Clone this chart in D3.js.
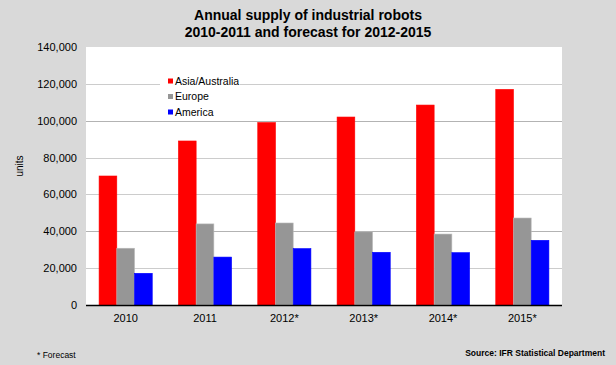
<!DOCTYPE html>
<html><head><meta charset="utf-8">
<script src="https://cdn.jsdelivr.net/npm/d3@7"></script>
<style>body{margin:0;background:#d9d9d9;}svg{display:block;font-family:"Liberation Sans",Arial,sans-serif;}</style>
</head><body>
<svg id="c" width="616" height="365"></svg>
<script>
const categories = ["2010","2011","2012*","2013*","2014*","2015*"];
const seriesNames = ["Asia/Australia","Europe","America"];
const asia = [70000, 89000, 99000, 102000, 108500, 117000];
const europe = [30800, 44000, 44500, 39700, 38500, 47200];
const america = [17200, 26000, 30600, 28600, 28400, 35100];
const colors = ["#ff0000","#969696","#0000ff"];
const yTicks = [0,20000,40000,60000,80000,100000,120000,140000];

(function(){
const svg = d3.select("#c");
svg.append("rect").attr("width",616).attr("height",365).attr("fill","#d9d9d9");
const pL=86, pR=562, pT=47, pB=305;
svg.append("rect").attr("x",pL).attr("y",pT).attr("width",pR-pL).attr("height",pB-pT).attr("fill","#fff");

const x = d3.scaleBand().domain(categories).range([pL,pR]).paddingInner(0.33).paddingOuter(0.165);
const y = d3.scaleLinear().domain([0,140000]).range([pB,pT]);
const xs = d3.scaleBand().domain(seriesNames).range([0,x.bandwidth()]);

// gridlines
svg.append("g").selectAll("line").data(yTicks.filter(d=>d>0 && d<140000)).join("line")
  .attr("x1",pL).attr("x2",pR).attr("y1",d=>Math.round(y(d))+0.5).attr("y2",d=>Math.round(y(d))+0.5)
  .attr("stroke",d=>(d===100000||d===40000)?"#b3b3b3":"#cccccc").attr("stroke-width",1);

// y axis labels
const ya = svg.append("g").attr("transform",`translate(${pL},0)`)
  .call(d3.axisLeft(y).tickValues(yTicks).tickSize(0).tickPadding(9).tickFormat(d3.format(",")));
ya.select(".domain").remove();
ya.selectAll("text").attr("font-size",11).attr("fill","#000").attr("font-family","Liberation Sans, Arial, sans-serif");

// bars
const data = [asia, europe, america];
const g = svg.append("g");
data.forEach((vals,si)=>{
  g.selectAll(null).data(vals).join("rect")
    .attr("x",(d,i)=>x(categories[i])+xs(seriesNames[si]))
    .attr("y",d=>y(d))
    .attr("width",xs.bandwidth())
    .attr("height",d=>pB-y(d))
    .attr("fill",colors[si])
    .attr("stroke",d3.color(colors[si]).brighter(0.6))
    .attr("stroke-width",0.6);
});

// x axis
svg.append("line").attr("x1",pL).attr("x2",pR).attr("y1",pB+0.5).attr("y2",pB+0.5).attr("stroke","#000").attr("stroke-width",1.6);
const xa = svg.append("g").attr("transform",`translate(0,${pB})`)
  .call(d3.axisBottom(x).tickSize(0).tickPadding(9));
xa.select(".domain").remove();
xa.selectAll("text").attr("font-size",11).attr("fill","#000").attr("font-family","Liberation Sans, Arial, sans-serif");

// legend
const lg = svg.append("g");
lg.append("rect").attr("x",160).attr("y",72).attr("width",80).attr("height",46).attr("fill","#fff");
seriesNames.forEach((n,i)=>{
  const cy = 81 + i*15.5;
  lg.append("rect").attr("x",168).attr("y",cy-2.5).attr("width",5).attr("height",5).attr("fill",colors[i]);
  lg.append("text").attr("x",175).attr("y",cy+3.8).attr("font-size",10.5).text(n);
});

// y label
svg.append("text").attr("transform","translate(23,166) rotate(-90)").attr("text-anchor","middle")
  .attr("font-size",10).text("units");

// title
svg.append("text").attr("x",308).attr("y",20).attr("text-anchor","middle").attr("font-size",14).attr("font-weight","bold").text("Annual supply of industrial robots");
svg.append("text").attr("x",308).attr("y",37).attr("text-anchor","middle").attr("font-size",14).attr("font-weight","bold").text("2010-2011 and forecast for 2012-2015");

// footnotes
svg.append("text").attr("x",37).attr("y",358).attr("font-size",8.5).attr("font-family","Liberation Sans Narrow, Arial, sans-serif").text("* Forecast");
svg.append("text").attr("x",605).attr("y",356).attr("text-anchor","end").attr("font-size",8.5).attr("font-weight","bold").attr("font-family","Liberation Sans Narrow, Arial, sans-serif").text("Source: IFR Statistical Department");
})();
</script>
</body></html>
